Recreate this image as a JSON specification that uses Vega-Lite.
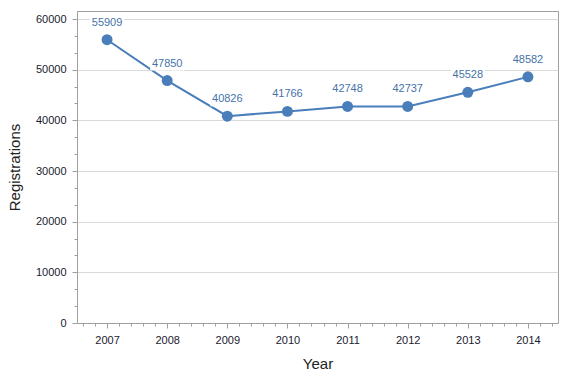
{
  "$schema": "https://vega.github.io/schema/vega-lite/v6.json",
  "width": 481,
  "height": 312,
  "autosize": {"type": "none"},
  "padding": {"left": 77, "top": 11, "right": 12, "bottom": 57},
  "background": "white",
  "config": {
    "font": "Liberation Sans",
    "view": {"stroke": "#a0a0a0", "strokeWidth": 1},
    "axis": {
      "domainColor": "#a0a0a0",
      "tickColor": "#a0a0a0",
      "gridColor": "#d9d9d9",
      "labelFont": "Liberation Sans",
      "labelFontSize": 11,
      "labelColor": "#1a1a2e",
      "titleFont": "Liberation Sans",
      "titleFontSize": 15,
      "titleFontWeight": "normal",
      "titleColor": "#222222"
    }
  },
  "data": {
    "values": [
      {"Year": 2007, "Registrations": 55909},
      {"Year": 2008, "Registrations": 47850},
      {"Year": 2009, "Registrations": 40826},
      {"Year": 2010, "Registrations": 41766},
      {"Year": 2011, "Registrations": 42748},
      {"Year": 2012, "Registrations": 42737},
      {"Year": 2013, "Registrations": 45528},
      {"Year": 2014, "Registrations": 48582}
    ]
  },
  "encoding": {
    "x": {
      "field": "Year",
      "type": "quantitative",
      "scale": {"domain": [2006.5, 2014.5], "nice": false, "zero": false},
      "axis": {
        "title": "Year",
        "grid": false,
        "values": [2006.6, 2006.8, 2007, 2007.2, 2007.4, 2007.6, 2007.8, 2008, 2008.2, 2008.4, 2008.6, 2008.8, 2009, 2009.2, 2009.4, 2009.6, 2009.8, 2010, 2010.2, 2010.4, 2010.6, 2010.8, 2011, 2011.2, 2011.4, 2011.6, 2011.8, 2012, 2012.2, 2012.4, 2012.6, 2012.8, 2013, 2013.2, 2013.4, 2013.6, 2013.8, 2014, 2014.2, 2014.4],
        "labelExpr": "abs(datum.value - round(datum.value)) < 0.01 ? format(datum.value, 'd') : ''",
        "tickSize": {"condition": {"test": "abs(datum.value - round(datum.value)) < 0.01", "value": 5}, "value": 3},
        "labelPadding": 6,
        "labelFlush": false,
        "labelOverlap": false,
        "titlePadding": 11
      }
    },
    "y": {
      "field": "Registrations",
      "type": "quantitative",
      "scale": {"domain": [0, 61579], "nice": false},
      "axis": {
        "title": "Registrations",
        "values": [0, 3333.333, 6666.667, 10000, 13333.333, 16666.667, 20000, 23333.333, 26666.667, 30000, 33333.333, 36666.667, 40000, 43333.333, 46666.667, 50000, 53333.333, 56666.667, 60000],
        "labelExpr": "datum.value % 10000 == 0 ? format(datum.value, 'd') : ''",
        "tickSize": {"condition": {"test": "datum.value % 10000 == 0", "value": 5}, "value": 3},
        "gridOpacity": {"condition": {"test": "datum.value % 10000 == 0", "value": 1}, "value": 0},
        "labelPadding": 6,
        "labelFlush": false,
        "labelOverlap": false,
        "titlePadding": 13
      }
    }
  },
  "layer": [
    {"mark": {"type": "line", "color": "#4a7ebb", "strokeWidth": 2}},
    {"mark": {"type": "circle", "color": "#4a7ebb", "opacity": 1, "size": 120}},
    {"mark": {"type": "rect", "color": "white", "width": 34, "height": 14, "yOffset": -17}},
    {
      "mark": {"type": "text", "color": "#4673a8", "fontSize": 11, "dy": -17, "font": "Liberation Sans"},
      "encoding": {"text": {"field": "Registrations", "type": "quantitative", "format": "d"}}
    }
  ]
}
